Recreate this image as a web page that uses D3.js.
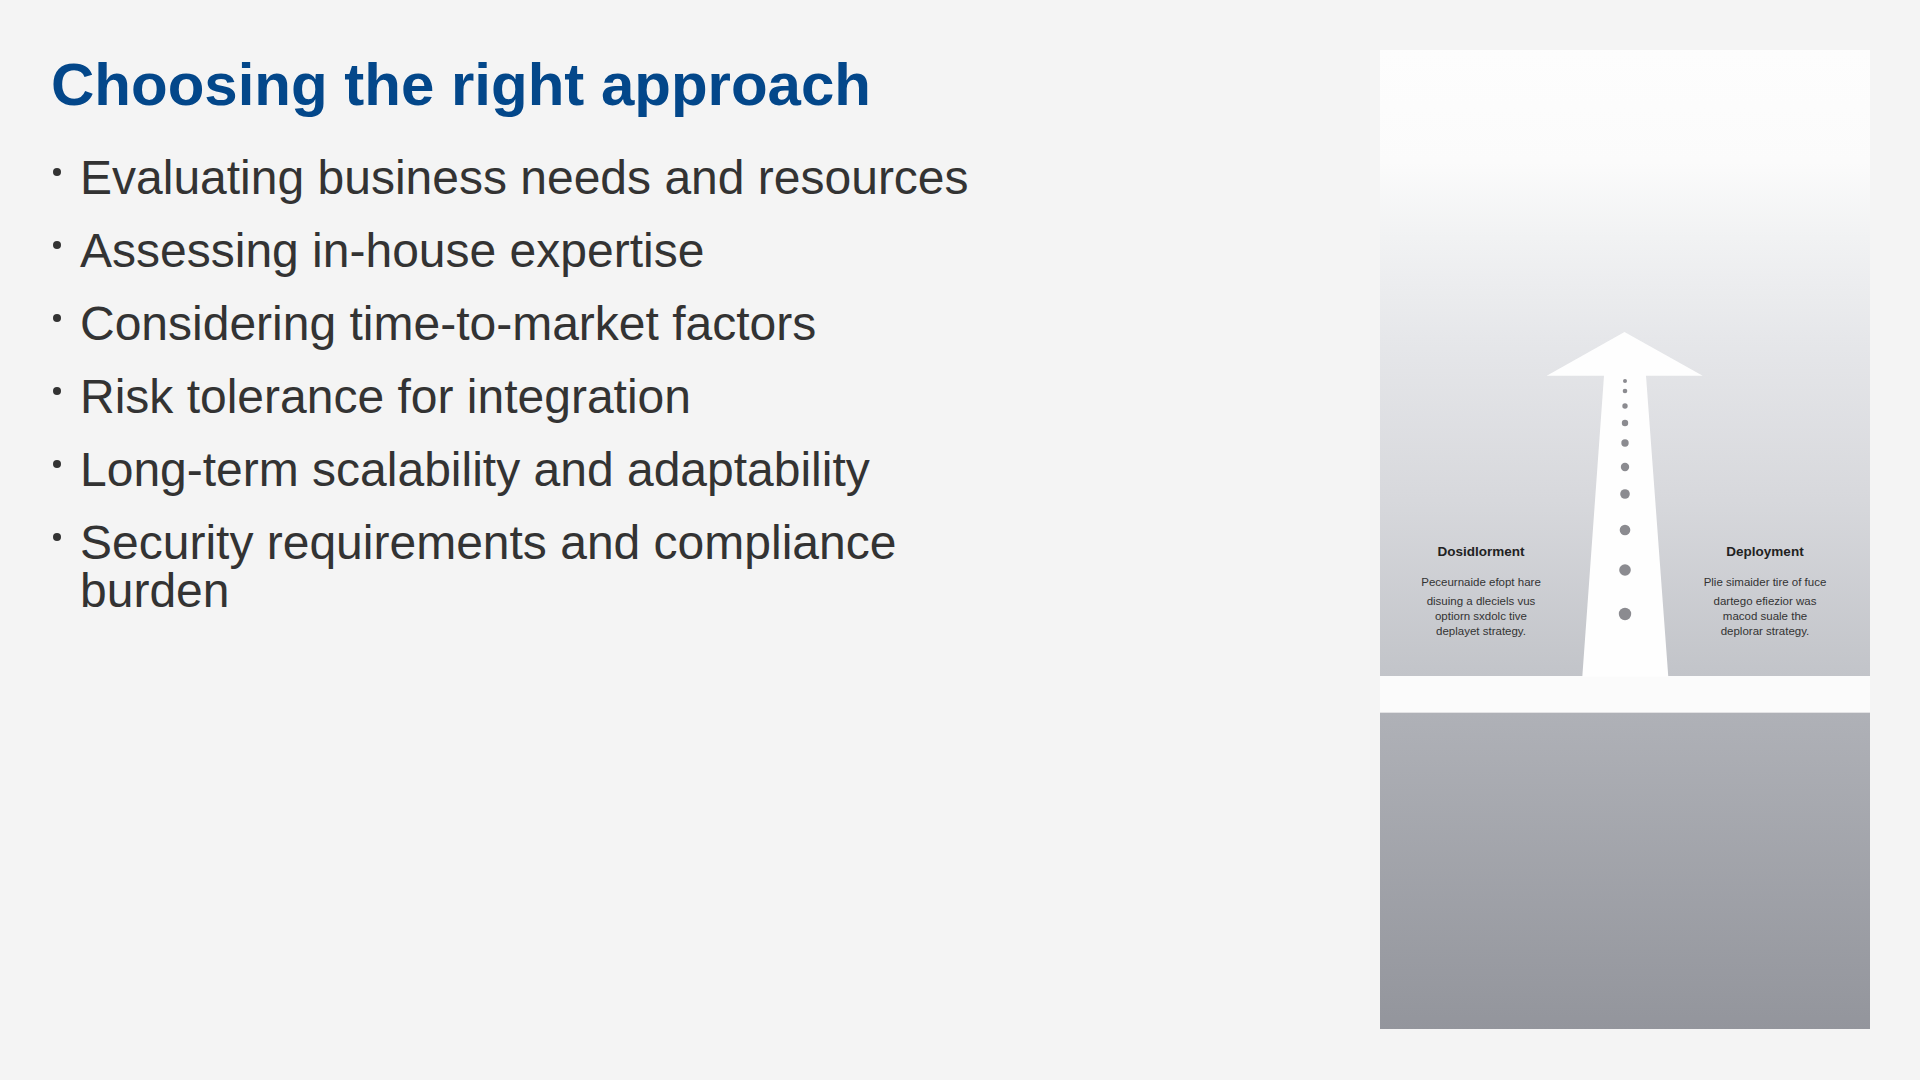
<!DOCTYPE html>
<html lang="en">
<head>
<meta charset="utf-8">
<title>Choosing the right approach</title>
<style>
  html, body {
    margin: 0;
    padding: 0;
    background: #f4f4f4;
    font-family: "Liberation Sans", Arial, Helvetica, sans-serif;
  }
  svg { display: block; }
</style>
</head>
<body>
<svg></svg>
<script src="https://d3js.org/d3.v7.min.js"></script>
<script>

// slide text
const title = "Choosing the right approach";
const bullets = [
  ["Evaluating business needs and resources"],
  ["Assessing in-house expertise"],
  ["Considering time-to-market factors"],
  ["Risk tolerance for integration"],
  ["Long-term scalability and adaptability"],
  ["Security requirements and compliance", "burden"]
];

// picture on the right, in its own 490 x 979 coordinates
const dotY = [331, 341, 356, 373, 393, 417, 444, 480, 520, 564];
const dotR = [2.0, 2.3, 2.7, 3.2, 3.7, 4.2, 4.8, 5.3, 5.8, 6.2];
const arrowPts = [
  [244.5, 282], [322.7, 325.7], [266, 325.7], [288.3, 626.7],
  [202.3, 626.7], [224, 325.7], [166.7, 325.7]
];
const captions = [
  { cx: 101, head: "Dosidlorment",
    lines: ["Peceurnaide efopt hare", "disuing a dleciels vus", "optiorn sxdolc tive", "deplayet strategy."] },
  { cx: 385, head: "Deployment",
    lines: ["Plie simaider tire of fuce", "dartego efiezior was", "macod suale the", "deplorar strategy."] }
];
const captionBase = [536, 555, 570, 585];

let w = 1920, h = 1080;
let svg = d3.select("svg").attr("width", w).attr("height", h);

svg.append("rect").attr("width", w).attr("height", h).attr("fill", "#f4f4f4");

// title
svg.append("text")
  .attr("x", 51).attr("y", 105)
  .attr("font-size", 60).attr("font-weight", "bold")
  .attr("fill", "#03478a")
  .text(title);

// bullet list: one row per item, wrapped lines 48px apart
let rowY = 194;
bullets.forEach(item => {
  svg.append("circle")
    .attr("cx", 57).attr("cy", rowY - 22).attr("r", 4)
    .attr("fill", "#333");
  item.forEach((line, j) => {
    svg.append("text")
      .attr("x", 80).attr("y", rowY + j * 48)
      .attr("font-size", 48).attr("fill", "#333")
      .text(line);
  });
  rowY += 73 + (item.length - 1) * 48;
});

// picture panel
let px = d3.scaleLinear().domain([0, 490]).range([1380, 1870]);
let py = d3.scaleLinear().domain([0, 979]).range([50, 1029]);

let defs = svg.append("defs");
let skyGrad = defs.append("linearGradient").attr("id", "sky")
  .attr("x1", 0).attr("y1", 0).attr("x2", 0).attr("y2", 1);
[[0, "#fdfdfd"], [0.18, "#fbfbfb"], [0.3, "#f1f2f3"], [0.46, "#e6e7ea"], [0.72, "#d7d8dc"], [1, "#c2c4c9"]]
  .forEach(s => skyGrad.append("stop").attr("offset", s[0]).attr("stop-color", s[1]));
let groundGrad = defs.append("linearGradient").attr("id", "ground")
  .attr("x1", 0).attr("y1", 0).attr("x2", 0).attr("y2", 1);
[[0, "#afb1b7"], [1, "#93959c"]]
  .forEach(s => groundGrad.append("stop").attr("offset", s[0]).attr("stop-color", s[1]));

let panel = svg.append("g").attr("id", "panel");

panel.append("rect")
  .attr("x", px(0)).attr("y", py(0))
  .attr("width", px(490) - px(0)).attr("height", py(626) - py(0))
  .attr("fill", "url(#sky)");
panel.append("rect")
  .attr("x", px(0)).attr("y", py(626))
  .attr("width", px(490) - px(0)).attr("height", py(663) - py(626))
  .attr("fill", "#fbfbfb");
panel.append("rect")
  .attr("x", px(0)).attr("y", py(662))
  .attr("width", px(490) - px(0)).attr("height", 1.5)
  .attr("fill", "#e2e2e4");
panel.append("rect")
  .attr("x", px(0)).attr("y", py(663))
  .attr("width", px(490) - px(0)).attr("height", py(979) - py(663))
  .attr("fill", "url(#ground)");

// arrow road
panel.append("path")
  .attr("d", d3.line().x(d => px(d[0])).y(d => py(d[1])).curve(d3.curveLinearClosed)(arrowPts))
  .attr("fill", "#fefefe");

// dots up the road
panel.selectAll("circle.dot")
  .data(dotY)
  .enter()
  .append("circle")
  .attr("class", "dot")
  .attr("cx", px(245))
  .attr("cy", d => py(d))
  .attr("r", (d, i) => dotR[i])
  .attr("fill", "#8b8b90");

// captions either side
captions.forEach(c => {
  let g = panel.append("g").attr("text-anchor", "middle");
  g.append("text")
    .attr("x", px(c.cx)).attr("y", py(506))
    .attr("font-size", 13.5).attr("font-weight", "bold").attr("fill", "#222")
    .text(c.head);
  g.selectAll("text.line")
    .data(c.lines)
    .enter()
    .append("text")
    .attr("class", "line")
    .attr("x", px(c.cx))
    .attr("y", (d, i) => py(captionBase[i]))
    .attr("font-size", 11.5).attr("fill", "#333")
    .text(d => d);
});

</script>
</body>
</html>
